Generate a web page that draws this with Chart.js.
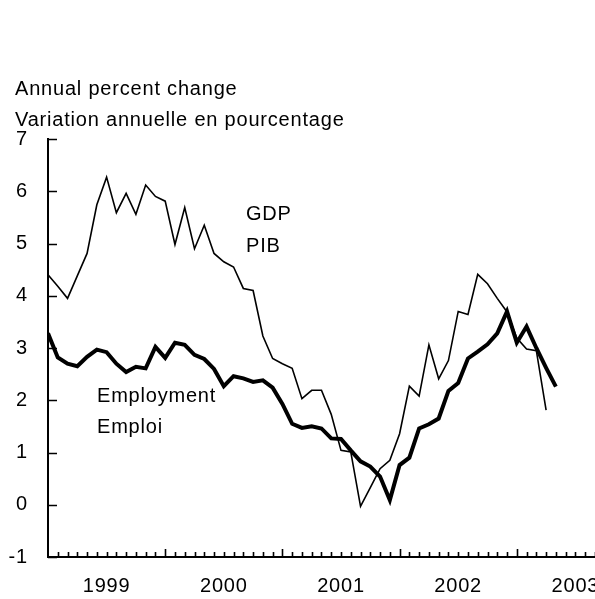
<!DOCTYPE html>
<html>
<head>
<meta charset="utf-8">
<script src="https://cdn.jsdelivr.net/npm/chart.js@4"></script>
<style>
    html, body { margin: 0; padding: 0; background: #fff; overflow: hidden; }
    #wrap { width: 660px; height: 599px; }
</style>
</head>
<body>
<div id="wrap"><canvas id="chart" width="660" height="599"></canvas></div>
<script>
// Monthly values, first point = January 1999
const gdp = [4.40, 4.18, 3.95, 4.38, 4.81, 5.74, 6.27, 5.59, 5.96, 5.56, 6.12, 5.90,
    5.81, 4.98, 5.69, 4.90, 5.35, 4.81, 4.65, 4.55, 4.14, 4.10, 3.23, 2.80,
    2.70, 2.61, 2.03, 2.19, 2.19, 1.73, 1.04, 1.01, -0.03, 0.33, 0.69, 0.85,
    1.36, 2.27, 2.08, 3.06, 2.41, 2.76, 3.70, 3.64, 4.41, 4.23, 3.95, 3.69,
    3.19, 2.98, 2.95, 1.81];
const employment = [3.28, 2.82, 2.70, 2.65, 2.83, 2.97, 2.92, 2.70, 2.54, 2.64, 2.61, 3.02,
    2.81, 3.10, 3.06, 2.87, 2.79, 2.60, 2.27, 2.46, 2.42, 2.35, 2.38, 2.24,
    1.93, 1.55, 1.47, 1.50, 1.46, 1.27, 1.26, 1.04, 0.83, 0.73, 0.54, 0.09,
    0.76, 0.90, 1.46, 1.54, 1.65, 2.18, 2.33, 2.80, 2.93, 3.07, 3.28, 3.70,
    3.10, 3.41, 3.00, 2.62, 2.26];
const years = ['1999', '2000', '2001', '2002', '2003'];
const yAxisTitle = ['Annual percent change', 'Variation annuelle en pourcentage'];
const seriesLabels = { gdp: ['GDP', 'PIB'], employment: ['Employment', 'Emploi'] };

const FONT = "'Liberation Sans', Arial, sans-serif";
const FONT_SIZE = 20;
const SPACING = '0.8px';

const toPoints = arr => arr.map((v, i) => ({ x: i, y: v }));

// Texts drawn on the canvas (axis title and in-plot series labels)
const textPlugin = {
    id: 'texts',
    beforeDraw(chart) {
        chart.ctx.letterSpacing = SPACING;
    },
    afterDraw(chart) {
        const ctx = chart.ctx;
        ctx.save();
        ctx.letterSpacing = SPACING;
        ctx.fillStyle = '#000';
        ctx.font = `${FONT_SIZE}px ${FONT}`;
        ctx.textAlign = 'left';
        ctx.textBaseline = 'alphabetic';
        ctx.fillText(yAxisTitle[0], 15, 95);
        ctx.fillText(yAxisTitle[1], 15, 126);
        ctx.fillText(seriesLabels.gdp[0], 246, 220);
        ctx.fillText(seriesLabels.gdp[1], 246, 252);
        ctx.fillText(seriesLabels.employment[0], 97, 402);
        ctx.fillText(seriesLabels.employment[1], 97, 433);
        ctx.restore();
    }
};

// Inward tick marks on both axes
const tickPlugin = {
    id: 'inTicks',
    afterDraw(chart) {
        const { ctx, scales: { x, y } } = chart;
        ctx.save();
        ctx.strokeStyle = '#000';
        ctx.lineWidth = 1.6;
        ctx.beginPath();
        for (let m = 1; m <= x.max; m++) {
            const px = Math.round(x.getPixelForValue(m)) + 0.5;
            const len = m % 12 === 0 ? 8 : 5;
            ctx.moveTo(px, y.bottom);
            ctx.lineTo(px, y.bottom - len);
        }
        for (let v = y.min; v <= y.max; v++) {
            const py = Math.round(y.getPixelForValue(v)) + 0.5;
            ctx.moveTo(x.left, py);
            ctx.lineTo(x.left + 9, py);
        }
        ctx.stroke();
        ctx.restore();
    }
};

new Chart(document.getElementById('chart'), {
    type: 'line',
    data: {
        datasets: [
            {
                label: 'GDP',
                data: toPoints(gdp),
                borderColor: '#000',
                borderWidth: 1.6,
                pointRadius: 0,
                tension: 0
            },
            {
                label: 'Employment',
                data: toPoints(employment),
                borderColor: '#000',
                borderWidth: 4,
                pointRadius: 0,
                tension: 0
            }
        ]
    },
    options: {
        responsive: false,
        animation: false,
        devicePixelRatio: 1,
        layout: { padding: { top: 139, right: 26, left: 0, bottom: 0 } },
        plugins: {
            legend: { display: false },
            tooltip: { enabled: false },
            title: { display: false }
        },
        scales: {
            x: {
                type: 'linear',
                min: 0,
                max: 60,
                afterFit: s => { s.height = 42; },
                afterBuildTicks: s => {
                    s.ticks = years.map((_, k) => ({ value: 6 + 12 * k }));
                },
                ticks: {
                    autoSkip: false,
                    maxRotation: 0,
                    padding: 17,
                    color: '#000',
                    font: { family: FONT, size: FONT_SIZE },
                    callback: v => years[Math.round((v - 6) / 12)]
                },
                grid: { display: false, drawTicks: false },
                border: { display: true, color: '#000', width: 2 }
            },
            y: {
                min: -1,
                max: 7,
                afterFit: s => { s.width = 48; },
                ticks: {
                    stepSize: 1,
                    padding: 20,
                    color: '#000',
                    font: { family: FONT, size: FONT_SIZE }
                },
                grid: { display: false, drawTicks: false },
                border: { display: true, color: '#000', width: 2 }
            }
        }
    },
    plugins: [textPlugin, tickPlugin]
});
</script>
</body>
</html>
